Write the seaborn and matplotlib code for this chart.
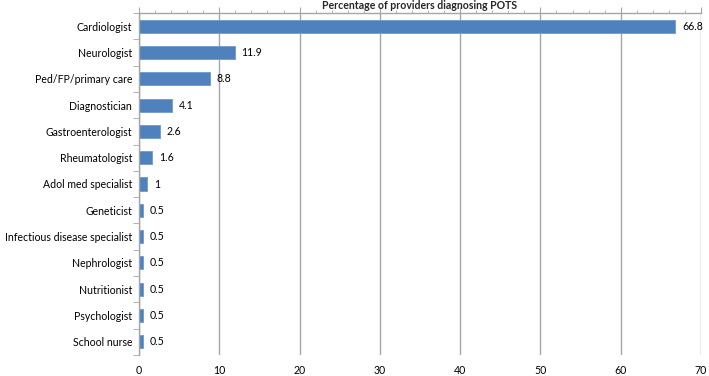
import matplotlib
matplotlib.use("Agg")
import matplotlib.pyplot as plt
import seaborn as sns
import pandas as pd
from matplotlib.ticker import MultipleLocator, FixedLocator

# values
providers = [
    "Cardiologist", "Neurologist", "Ped/FP/primary care", "Diagnostician",
    "Gastroenterologist", "Rheumatologist", "Adol med specialist", "Geneticist",
    "Infectious disease specialist", "Nephrologist", "Nutritionist",
    "Psychologist", "School nurse",
]
percent = [66.8, 11.9, 8.8, 4.1, 2.6, 1.6, 1, 0.5, 0.5, 0.5, 0.5, 0.5, 0.5]
x_ticks = [0, 10, 20, 30, 40, 50, 60, 70]

df = pd.DataFrame({"Provider": providers, "Percent": percent})

sns.set_style("white")
plt.rcParams["font.family"] = ["Lato", "DejaVu Sans"]
grid_col = "#a6a6a6"
fs = 7.6

fig = plt.figure(figsize=(7.09, 3.76), dpi=100)
ax = fig.add_axes([139 / 709, 21 / 376, 562 / 709, 342 / 376])

sns.barplot(data=df, y="Provider", x="Percent", orient="h", color="#4f81bd",
            width=0.5, saturation=1, edgecolor="#6f9ad0", linewidth=0.6, ax=ax)

# value labels at the bar ends
ax.bar_label(ax.containers[0], labels=[f"{v:g}" for v in percent],
             padding=5, fontsize=fs, color="black")

ax.set_xlim(0, 70)
ax.set_ylim(len(providers) - 0.5, -0.5)
ax.xaxis.set_major_locator(FixedLocator(x_ticks))
ax.xaxis.set_minor_locator(MultipleLocator(2))
ax.grid(axis="x", color=grid_col, linewidth=1)
ax.set_axisbelow(True)

# value axis line on top, labels at the bottom (Excel style)
ax.tick_params(axis="x", which="both", top=True, bottom=False,
               labeltop=False, labelbottom=True, direction="out",
               color=grid_col, labelsize=fs, labelcolor="black", pad=3)
ax.tick_params(axis="x", which="major", length=4)
ax.tick_params(axis="x", which="minor", length=2.5)

# category axis: ticks between categories
ax.yaxis.set_major_locator(FixedLocator(range(len(providers))))
ax.yaxis.set_minor_locator(FixedLocator([i - 0.5 for i in range(len(providers) + 1)]))
ax.tick_params(axis="y", which="major", length=0, labelsize=fs,
               labelcolor="black", pad=5)
ax.tick_params(axis="y", which="minor", left=True, length=4, color=grid_col)

for side in ["bottom", "right"]:
    ax.spines[side].set_visible(False)
for side in ["top", "left"]:
    ax.spines[side].set_color(grid_col)
    ax.spines[side].set_linewidth(1)

ax.set_xlabel("")
ax.set_ylabel("")
ax.set_title("Percentage of providers diagnosing POTS", fontsize=fs,
             fontweight="bold", pad=3)

fig.savefig("out.png", dpi=100)
plt.close(fig)
